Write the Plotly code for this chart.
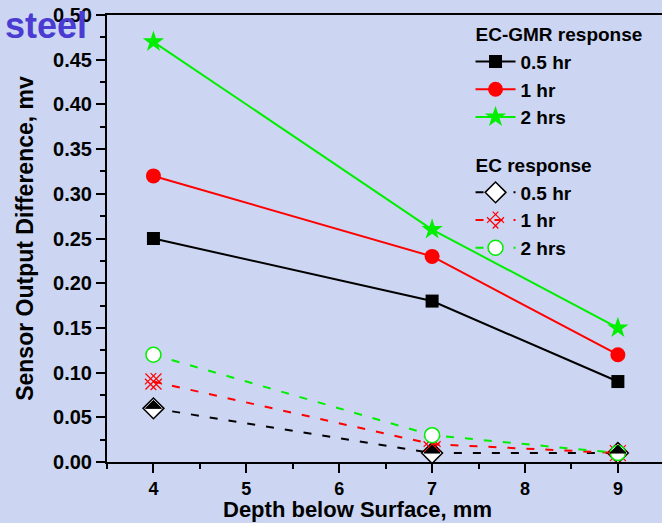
import plotly.graph_objects as go

# Depth below surface (mm)
depth = [4, 7, 9]

# EC-GMR sensor output difference (mV)
gmr_05 = [0.25, 0.18, 0.09]
gmr_1 = [0.32, 0.23, 0.12]
gmr_2 = [0.47, 0.26, 0.15]

# EC sensor output difference (mV)
ec_05 = [0.06, 0.01, 0.01]
ec_1 = [0.09, 0.02, 0.01]
ec_2 = [0.12, 0.03, 0.01]

x_ticks = [4, 5, 6, 7, 8, 9]

BG = "#ccd6f2"
FONT = "Liberation Sans, Arial, sans-serif"
LEG = dict(family=FONT, size=19, color="black", weight="bold")
GREEN = "#00ee00"
RED = "#ff0000"
DASH = "8px,11px"

# plot area in pixels (used to place the free-standing texts)
L, R, T, B, W, H = 107, 0, 15, 61, 662, 523
PW, PH = W - L - R, H - T - B

fig = go.Figure()

gmr_title = "<b>EC-GMR response</b>"
ec_title = "<b>EC response</b>"

fig.add_trace(go.Scatter(
    x=depth, y=gmr_05, name="<b>0.5 hr</b>", mode="lines+markers",
    line=dict(color="black", width=2),
    marker=dict(symbol="square", size=13, color="black"),
    legendgroup="gmr", legendgrouptitle=dict(text=gmr_title, font=LEG)))
fig.add_trace(go.Scatter(
    x=depth, y=gmr_1, name="<b>1 hr</b>", mode="lines+markers",
    line=dict(color=RED, width=2),
    marker=dict(symbol="circle", size=15, color=RED),
    legendgroup="gmr"))
fig.add_trace(go.Scatter(
    x=depth, y=gmr_2, name="<b>2 hrs</b>", mode="lines+markers",
    line=dict(color=GREEN, width=2),
    marker=dict(symbol="star", size=16, color=GREEN),
    legendgroup="gmr"))

fig.add_trace(go.Scatter(
    x=depth, y=ec_05, name="<b>0.5 hr</b>", mode="lines+markers",
    line=dict(color="black", width=2, dash=DASH),
    marker=dict(symbol="diamond", size=16, color="white",
                line=dict(color="black", width=1.5)),
    legendgroup="ec", legendgrouptitle=dict(text=ec_title, font=LEG)))

# black upper half of the EC 0.5 hr diamonds
for xv, yv in zip(depth, ec_05):
    fig.add_shape(type="path", xref="x", yref="y",
                  xsizemode="pixel", ysizemode="pixel",
                  xanchor=xv, yanchor=yv,
                  path="M -8 0 L 0 8 L 8 0 Z",
                  fillcolor="black", line=dict(color="black", width=1),
                  layer="above")

fig.add_trace(go.Scatter(
    x=depth, y=ec_1, name="<b>1 hr</b>", mode="lines+markers",
    line=dict(color=RED, width=2, dash=DASH),
    marker=dict(symbol="hash-open", size=16, angle=45, color=RED,
                line=dict(color=RED, width=1.2)),
    legendgroup="ec"))
# centre cross of the hatched 1 hr markers
fig.add_trace(go.Scatter(
    x=depth, y=ec_1, mode="markers", showlegend=False, hoverinfo="skip",
    marker=dict(symbol="x-thin-open", size=16, color=RED,
                line=dict(color=RED, width=1.2))))
fig.add_trace(go.Scatter(
    x=depth, y=ec_2, name="<b>2 hrs</b>", mode="lines+markers",
    line=dict(color=GREEN, width=2, dash=DASH),
    marker=dict(symbol="circle", size=15, color="white",
                line=dict(color=GREEN, width=1.5)),
    legendgroup="ec"))

fig.add_annotation(text="<b>steel</b>", xref="paper", yref="paper",
                   x=(3 - L) / PW, y=1 + 12 / PH, xanchor="left", yanchor="top",
                   showarrow=False,
                   font=dict(family=FONT, size=36, color="#4a3cd2"))

# x-axis title
fig.add_annotation(text="<b>Depth below Surface, mm</b>", xref="paper", yref="paper",
                   x=(357 - L) / PW, y=-(509 - (T + PH)) / PH,
                   xanchor="center", yanchor="middle", showarrow=False,
                   font=dict(family=FONT, size=22, color="black"))

fig.update_layout(
    width=W, height=H,
    margin=dict(l=L, r=R, t=T, b=B),
    paper_bgcolor=BG, plot_bgcolor=BG,
    font=dict(family=FONT, color="black"),
    showlegend=True,
    legend=dict(x=0.655, y=1.0, xanchor="left", yanchor="top",
                bgcolor="rgba(0,0,0,0)", font=LEG,
                tracegroupgap=20, traceorder="grouped", itemwidth=40),
    xaxis=dict(
        range=[3.5, 9.475], tickvals=x_ticks,
        ticks="outside", ticklen=9, tickwidth=2, tickcolor="black",
        minor=dict(dtick=0.5, ticks="outside", ticklen=5, tickwidth=2, tickcolor="black"),
        showline=True, linecolor="black", linewidth=2, mirror=True,
        showgrid=False, zeroline=False, automargin=False,
        tickfont=dict(family=FONT, size=18, color="black", weight="bold"),
    ),
    yaxis=dict(
        range=[0, 0.5], dtick=0.05, tickformat=".2f",
        ticks="outside", ticklen=9, tickwidth=2, tickcolor="black",
        minor=dict(dtick=0.025, ticks="outside", ticklen=5, tickwidth=2, tickcolor="black"),
        showline=True, linecolor="black", linewidth=2, mirror=False,
        showgrid=False, zeroline=False,
        tickfont=dict(family=FONT, size=20, color="black", weight="bold"),
        title=dict(text="<b>Sensor Output Difference, mv</b>", standoff=13,
                   font=dict(family=FONT, size=23, color="black")),
    ),
)

fig.write_html("out.html")
